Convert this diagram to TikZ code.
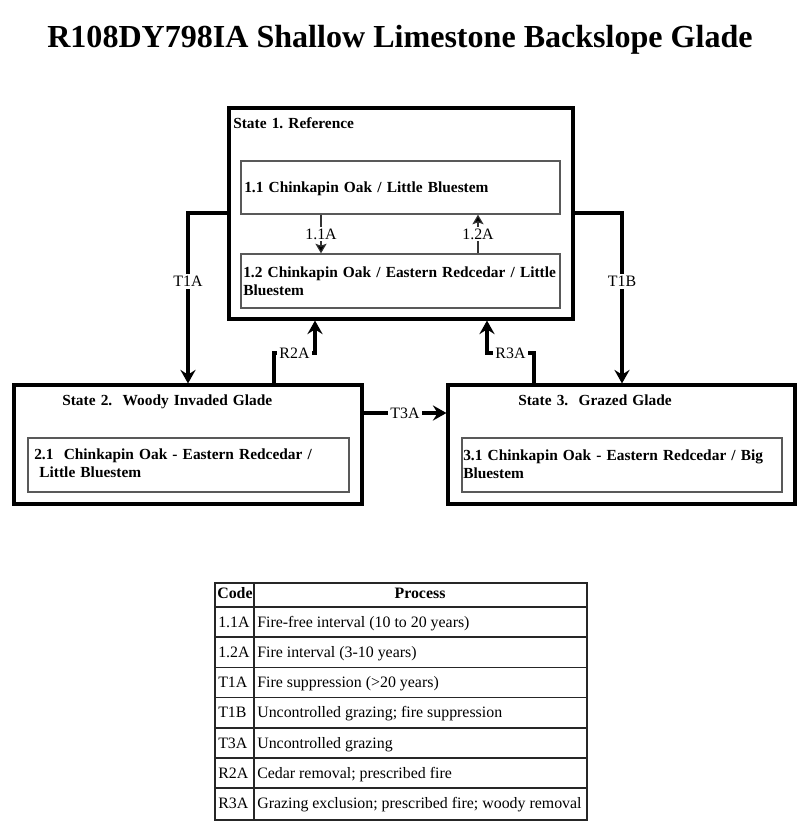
\documentclass[tikz,border=0pt]{standalone}
\usepackage{fontspec}
\setmainfont{Liberation Serif}
\usetikzlibrary{arrows.meta,fit}
\frenchspacing

\begin{document}
\begin{tikzpicture}[x=0.025cm,y=-0.025cm,
        font=\fontsize{11.3}{13}\selectfont,
        statebox/.style={draw,line width=2.2pt,inner sep=0pt},
        phasebox/.style={draw=black!65,line width=1pt,inner sep=0pt},
        boxtext/.style={anchor=base west,inner sep=0pt,align=left,text width=8.6cm,
            font=\fontsize{10.95}{13}\selectfont\bfseries},
        trans/.style={line width=2.2pt,-{Stealth[length=3.4mm,width=3.8mm,inset=1.2mm]}},
        pathway/.style={draw=black!80,line width=0.8pt,-{Stealth[length=2.4mm,width=2.8mm,inset=0.5mm,fill=black]}},
        lbl/.style={fill=white,inner sep=1.5pt},
        cell/.style={anchor=base west,inner sep=0pt}]
        \useasboundingbox (0,0) rectangle (800,823);
        \node[anchor=base] (title) at (400,47)
            {\fontsize{22.8}{26}\selectfont\bfseries R108DY798IA Shallow Limestone Backslope Glade};
        % states
        \node[statebox,fit={(229,108) (573,319)}] (s1) {};
        \node[statebox,fit={(14,385) (362,504)}] (s2) {};
        \node[statebox,fit={(448,385) (795,504)}] (s3) {};
        \node[boxtext] (s1name) at (233,128) {State 1. Reference};
        \node[boxtext] (s2name) at (62,405) {State 2.\ \ Woody Invaded Glade};
        \node[boxtext] (s3name) at (518,405) {State 3.\ \ Grazed Glade};
        % community phases
        \node[phasebox,fit={(241,161) (560,214)}] (p11) {};
        \node[phasebox,fit={(241,254) (560,308)}] (p12) {};
        \node[phasebox,fit={(28,438) (349,492)}] (p21) {};
        \node[phasebox,fit={(462,438) (782,492)}] (p31) {};
        \node[boxtext] (p11name) at (244,192) {1.1 Chinkapin Oak / Little Bluestem};
        \node[boxtext] (p12name) at (243,277) {1.2 Chinkapin Oak / Eastern Redcedar / Little\\Bluestem};
        \node[boxtext] (p21name) at (34,459) {2.1\ \ Chinkapin Oak - Eastern Redcedar /\\\ Little Bluestem};
        \node[boxtext] (p31name) at (463,460) {3.1 Chinkapin Oak - Eastern Redcedar / Big\\Bluestem};
        % pathways
        \draw[pathway] (p11.south -| 321,0) -- node[lbl] {1.1A} (p12.north -| 321,0);
        \draw[pathway] (p12.north -| 478,0) -- node[lbl] {1.2A} (p11.south -| 478,0);
        % transitions and restorations
        \draw[trans] (s1.west |- 0,213) -| node[lbl,pos=0.7] {T1A} (s2.north -| 188,0);
        \draw[trans] (s1.east |- 0,213) -| node[lbl,pos=0.7] {T1B} (s3.north -| 622,0);
        \draw[trans] (s2.east |- 0,413) -- node[lbl] {T3A} (s3.west |- 0,413);
        \draw[trans] (s2.north -| 274,0) -- (274,353) -- node[lbl] {R2A} (315,353) -- (s1.south -| 315,0);
        \draw[trans] (s3.north -| 534,0) -- (534,353) -- node[lbl] {R3A} (487,353) -- (s1.south -| 487,0);
        % table
        \draw[line width=1.1pt,black!85] (215,583) rectangle (587,820);
        \draw[line width=1.1pt,black!85] (254,583) -- (254,820);
        \foreach \i in {0,...,6}
            \draw[line width=1.1pt,black!85] (215,607+30.2*\i) -- (587,607+30.2*\i);
        \node[cell,font=\fontsize{11.3}{13}\selectfont\bfseries] (codehead) at (217,598) {Code};
        \node[anchor=base,inner sep=0pt,font=\fontsize{11.3}{13}\selectfont\bfseries] (prochead) at (420,598) {Process};
        \foreach \code/\proc [count=\i] in {1.1A/{Fire-free interval (10 to 20 years)},
                1.2A/{Fire interval (3-10 years)},
                T1A/{Fire suppression (>20 years)},
                T1B/{Uncontrolled grazing; fire suppression},
                T3A/{Uncontrolled grazing},
                R2A/{Cedar removal; prescribed fire},
                R3A/{Grazing exclusion; prescribed fire; woody removal}}{
            \node[cell] (code\i) at (218,597+30.2*\i) {\code};
            \node[cell] (proc\i) at (257,597+30.2*\i) {\proc};
        }
    \end{tikzpicture}
\end{document}
